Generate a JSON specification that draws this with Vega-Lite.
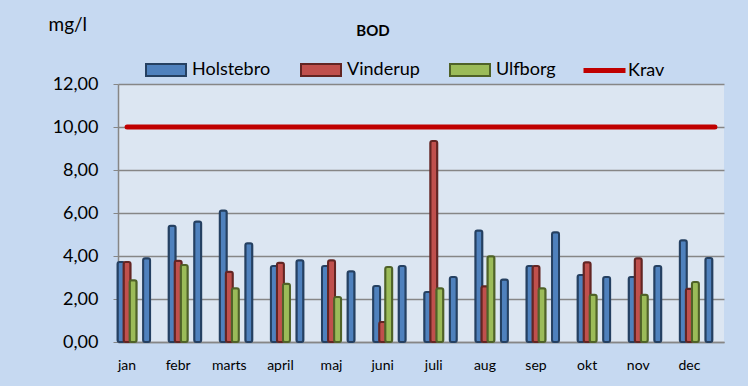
{
  "$schema": "https://vega.github.io/schema/vega-lite/v6.json",
  "width": 606,
  "height": 258,
  "autosize": {"type": "none"},
  "padding": {"left": 118, "top": 84, "right": 24, "bottom": 44},
  "background": "#C6D9F1",
  "view": {"fill": "#DCE6F2", "stroke": null},
  "title": {"text": "BOD", "fontSize": 15, "fontWeight": "bold", "font": "Lato", "color": "#000000", "anchor": "middle", "frame": "group", "dx": -48, "dy": 28},
  "config": {"font": "Lato"},
  "datasets": {
    "bars": [
      {"cat": "jan", "series": "Holstebro", "v": 3.72}, {"cat": "jan", "series": "Vinderup", "v": 3.72}, {"cat": "jan", "series": "Ulfborg", "v": 2.87},
      {"cat": "jan_", "series": "Holstebro", "v": 3.89},
      {"cat": "febr", "series": "Holstebro", "v": 5.41}, {"cat": "febr", "series": "Vinderup", "v": 3.78}, {"cat": "febr", "series": "Ulfborg", "v": 3.58},
      {"cat": "febr_", "series": "Holstebro", "v": 5.61},
      {"cat": "marts", "series": "Holstebro", "v": 6.12}, {"cat": "marts", "series": "Vinderup", "v": 3.27}, {"cat": "marts", "series": "Ulfborg", "v": 2.5},
      {"cat": "marts_", "series": "Holstebro", "v": 4.59},
      {"cat": "april", "series": "Holstebro", "v": 3.53}, {"cat": "april", "series": "Vinderup", "v": 3.69}, {"cat": "april", "series": "Ulfborg", "v": 2.71},
      {"cat": "april_", "series": "Holstebro", "v": 3.8},
      {"cat": "maj", "series": "Holstebro", "v": 3.53}, {"cat": "maj", "series": "Vinderup", "v": 3.8}, {"cat": "maj", "series": "Ulfborg", "v": 2.09},
      {"cat": "maj_", "series": "Holstebro", "v": 3.29},
      {"cat": "juni", "series": "Holstebro", "v": 2.6}, {"cat": "juni", "series": "Vinderup", "v": 0.93}, {"cat": "juni", "series": "Ulfborg", "v": 3.49},
      {"cat": "juni_", "series": "Holstebro", "v": 3.53},
      {"cat": "juli", "series": "Holstebro", "v": 2.33}, {"cat": "juli", "series": "Vinderup", "v": 9.35}, {"cat": "juli", "series": "Ulfborg", "v": 2.5},
      {"cat": "juli_", "series": "Holstebro", "v": 3.02},
      {"cat": "aug", "series": "Holstebro", "v": 5.19}, {"cat": "aug", "series": "Vinderup", "v": 2.59}, {"cat": "aug", "series": "Ulfborg", "v": 3.99},
      {"cat": "aug_", "series": "Holstebro", "v": 2.91},
      {"cat": "sep", "series": "Holstebro", "v": 3.53}, {"cat": "sep", "series": "Vinderup", "v": 3.53}, {"cat": "sep", "series": "Ulfborg", "v": 2.5},
      {"cat": "sep_", "series": "Holstebro", "v": 5.1},
      {"cat": "okt", "series": "Holstebro", "v": 3.12}, {"cat": "okt", "series": "Vinderup", "v": 3.71}, {"cat": "okt", "series": "Ulfborg", "v": 2.2},
      {"cat": "okt_", "series": "Holstebro", "v": 3.02},
      {"cat": "nov", "series": "Holstebro", "v": 3.02}, {"cat": "nov", "series": "Vinderup", "v": 3.89}, {"cat": "nov", "series": "Ulfborg", "v": 2.2},
      {"cat": "nov_", "series": "Holstebro", "v": 3.53},
      {"cat": "dec", "series": "Holstebro", "v": 4.73}, {"cat": "dec", "series": "Vinderup", "v": 2.48}, {"cat": "dec", "series": "Ulfborg", "v": 2.79},
      {"cat": "dec_", "series": "Holstebro", "v": 3.91}
    ],
    "krav": [
      {"cat": "jan", "k": "Krav", "v": 10}, {"cat": "jan_", "k": "Krav", "v": 10},
      {"cat": "febr", "k": "Krav", "v": 10}, {"cat": "febr_", "k": "Krav", "v": 10},
      {"cat": "marts", "k": "Krav", "v": 10}, {"cat": "marts_", "k": "Krav", "v": 10},
      {"cat": "april", "k": "Krav", "v": 10}, {"cat": "april_", "k": "Krav", "v": 10},
      {"cat": "maj", "k": "Krav", "v": 10}, {"cat": "maj_", "k": "Krav", "v": 10},
      {"cat": "juni", "k": "Krav", "v": 10}, {"cat": "juni_", "k": "Krav", "v": 10},
      {"cat": "juli", "k": "Krav", "v": 10}, {"cat": "juli_", "k": "Krav", "v": 10},
      {"cat": "aug", "k": "Krav", "v": 10}, {"cat": "aug_", "k": "Krav", "v": 10},
      {"cat": "sep", "k": "Krav", "v": 10}, {"cat": "sep_", "k": "Krav", "v": 10},
      {"cat": "okt", "k": "Krav", "v": 10}, {"cat": "okt_", "k": "Krav", "v": 10},
      {"cat": "nov", "k": "Krav", "v": 10}, {"cat": "nov_", "k": "Krav", "v": 10},
      {"cat": "dec", "k": "Krav", "v": 10}, {"cat": "dec_", "k": "Krav", "v": 10}
    ]
  },
  "encoding": {
    "x": {
      "field": "cat", "type": "nominal",
      "scale": {"domain": ["jan","jan_","febr","febr_","marts","marts_","april","april_","maj","maj_","juni","juni_","juli","juli_","aug","aug_","sep","sep_","okt","okt_","nov","nov_","dec","dec_"], "paddingInner": 0.29, "paddingOuter": 0},
      "axis": {"title": null, "labelAngle": 0, "ticks": false, "labelPadding": 16, "labelFontSize": 14, "labelColor": "#000000", "domainColor": "#868686", "domainWidth": 1.5, "labelExpr": "indexof(datum.label, '_') >= 0 ? '' : datum.label", "grid": false}
    },
    "y": {
      "field": "v", "type": "quantitative",
      "scale": {"domain": [0, 12], "nice": false},
      "axis": {"values": [0, 2, 4, 6, 8, 10, 12], "labelExpr": "replace(format(datum.value, '.2f'), '.', ',')", "labelFontSize": 18, "labelColor": "#000000", "labelPadding": 15, "tickSize": 5, "tickColor": "#868686", "domainColor": "#868686", "domainWidth": 1.5, "gridColor": "#868686", "gridWidth": 1.5, "gridOpacity": 1,
        "title": "mg/l", "titleAngle": 0, "titleAlign": "left", "titleBaseline": "middle", "titleX": -70, "titleY": -60, "titleFontSize": 19, "titleFontWeight": "normal", "titleColor": "#000000"}
    }
  },
  "layer": [
    {
      "data": {"name": "bars"},
      "mark": {"type": "bar", "width": 7, "strokeWidth": 2, "cornerRadius": 2},
      "encoding": {
        "xOffset": {"field": "series", "type": "nominal", "scale": {"domain": ["Holstebro", "Vinderup", "Ulfborg"]}},
        "fill": {"field": "series", "type": "nominal",
          "scale": {"domain": ["Holstebro", "Vinderup", "Ulfborg"], "range": ["#4F81BD", "#C0504D", "#9BBB59"]},
          "legend": {"title": null, "orient": "none", "direction": "horizontal", "legendX": 27, "legendY": -35, "symbolType": "M-1,-0.3H1V0.3H-1Z", "symbolSize": 1600, "symbolStrokeWidth": 2, "symbolStrokeColor": {"expr": "datum.value === 'Holstebro' ? '#254061' : datum.value === 'Vinderup' ? '#632523' : '#4F6228'"}, "labelFontSize": 18, "labelColor": "#000000", "labelOffset": 5, "columnPadding": 26, "symbolOpacity": 1}},
        "stroke": {"field": "series", "type": "nominal",
          "scale": {"domain": ["Holstebro", "Vinderup", "Ulfborg"], "range": ["#254061", "#632523", "#4F6228"]},
          "legend": null}
      }
    },
    {
      "data": {"name": "krav"},
      "mark": {"type": "line", "strokeWidth": 5, "strokeCap": "round"},
      "encoding": {
        "stroke": {"field": "k", "type": "nominal", "scale": {"domain": ["Krav"], "range": ["#C00000"]},
          "legend": {"title": null, "orient": "none", "direction": "horizontal", "legendX": 463, "legendY": -37, "symbolType": "stroke", "symbolSize": 1764, "symbolStrokeWidth": 5, "labelFontSize": 18, "labelColor": "#000000", "labelOffset": 0}}
      }
    }
  ],
  "resolve": {"scale": {"stroke": "independent"}}
}
